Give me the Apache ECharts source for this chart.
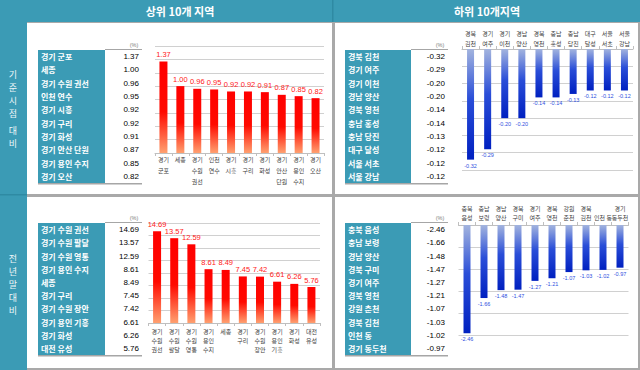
<!DOCTYPE html>
<html><head><meta charset="utf-8">
<script src="https://cdn.jsdelivr.net/npm/echarts@6/dist/echarts.min.js"></script>
<style>html,body{margin:0;padding:0;background:#fff}#c{width:640px;height:370px}</style>
</head><body><div id="c"></div>
<script>
// ---- Data ----
const topNames1 = ['경기 군포','세종','경기 수원 권선','인천 연수','경기 시흥','경기 구리','경기 화성','경기 안산 단원','경기 용인 수지','경기 오산'];
const topTicks1 = ['경기\n군포','세종','경기\n수원\n권선','인천\n연수','경기\n시흥','경기\n구리','경기\n화성','경기\n안산\n단원','경기\n용인\n수지','경기\n오산'];
const topValues1 = [1.37,1.00,0.96,0.95,0.92,0.92,0.91,0.87,0.85,0.82];

const lowNames1 = ['경북 김천','경기 여주','경기 이천','경남 양산','경북 영천','충남 홍성','충남 당진','대구 달성','서울 서초','서울 강남'];
const lowTicks1 = ['경북\n김천','경기\n여주','경기\n이천','경남\n양산','경북\n영천','충남\n홍성','충남\n당진','대구\n달성','서울\n서초','서울\n강남'];
const lowValues1 = [-0.32,-0.29,-0.20,-0.20,-0.14,-0.14,-0.13,-0.12,-0.12,-0.12];

const topNames2 = ['경기 수원 권선','경기 수원 팔달','경기 수원 영통','경기 용인 수지','세종','경기 구리','경기 수원 장안','경기 용인 기흥','경기 화성','대전 유성'];
const topTicks2 = ['경기\n수원\n권선','경기\n수원\n팔달','경기\n수원\n영통','경기\n용인\n수지','세종','경기\n구리','경기\n수원\n장안','경기\n용인\n기흥','경기\n화성','대전\n유성'];
const topValues2 = [14.69,13.57,12.59,8.61,8.49,7.45,7.42,6.61,6.26,5.76];

const lowNames2 = ['충북 음성','충남 보령','경남 양산','경북 구미','경기 여주','경북 영천','강원 춘천','경북 김천','인천 동','경기 동두천'];
const lowTicks2 = ['충북\n음성','충남\n보령','경남\n양산','경북\n구미','경기\n여주','경북\n영천','강원\n춘천','경북\n김천','인천 동','경기\n동두천'];
const lowValues2 = [-2.46,-1.66,-1.48,-1.47,-1.27,-1.21,-1.07,-1.03,-1.02,-0.97];

const headerTop = '상위 10개 지역';
const headerLow = '하위 10개지역';
const rowTitle1a = '기준시점', rowTitle1b = '대비';
const rowTitle2 = '전년말대비';
const unitText = '(%)';

// ---- Styles ----
const TEAL = '#3b9bb5';
const KR = '"Noto Sans CJK KR", sans-serif';
const NUM = '"Liberation Sans", Arial, sans-serif';

const chart = echarts.init(document.getElementById('c'), null, {renderer:'svg', width:640, height:370});

const g = [];
function rect(x,y,w,h,fill,z){ g.push({type:'rect', shape:{x,y,width:w,height:h}, style:{fill}, z:(z||0)-20, silent:true}); }
function text(t,x,y,opt){
  opt = opt||{};
  g.push({type:'text', z:20, silent:true, style:{text:t, x, y, fill:opt.fill||'#000',
    font:(opt.weight||'normal')+' '+(opt.size||8)+'px '+(opt.family||KR),
    textAlign:opt.align||'left', align:opt.align||'left', textVerticalAlign:'middle', verticalAlign:'middle'}});
}
// frame
rect(0,0,640,370,'#a9a9a9',0);
rect(0,0,640,22,TEAL,1);
rect(0,0,27,370,TEAL,1);
rect(332,0,1.5,22,'#2f8aa3',2);
rect(0,194,27,1.5,'#2f8aa3',2);
rect(27,23,305,171,'#fff',1);
rect(335,23,303,171,'#fff',1);
rect(27,197,305,171,'#fff',1);
rect(335,197,303,171,'#fff',1);
text(headerTop,180,11,{fill:'#fff',size:11,weight:'bold',align:'center'});
text(headerLow,487,11,{fill:'#fff',size:11,weight:'bold',align:'center'});
function vText(str, x, y0, step, size){
  str.split('').forEach((ch,i)=>text(ch,x,y0+i*step,{fill:'#eef6f8',size:size,align:'center'}));
}
vText(rowTitle1a,13,74,13.2,9);
vText(rowTitle1b,13,130,13.2,9);
vText(rowTitle2,13,258,13.2,9);

function table(names, vals, x0, xm, x1, y0, rh){
  rect(x0,y0,xm-x0,rh*names.length,TEAL,2);
  rect(xm,y0-1,x1-xm,1,'#a6a6a6',2);
  rect(x0,y0+rh*names.length,x1-x0,1.6,'#a6a6a6',2);
  text(unitText,x1-8,y0-5,{fill:'#808080',size:5.5,family:NUM,align:'center'});
  names.forEach((n,i)=>{
    const cy = y0+rh*(i+0.5);
    text(n,x0+3,cy,{fill:'#fff',size:8,weight:'bold'});
    text(vals[i].toFixed(2),x1-3,cy,{fill:'#000',size:8,family:NUM,align:'right'});
  });
}
table(topNames1,topValues1,38,105,142,50,13.3);
table(lowNames1,lowValues1,345,411,448,50,13.3);
table(topNames2,topValues2,38,105,142,223,13.2);
table(lowNames2,lowValues2,345,411,448,223,13.2);

const redGrad = () => new echarts.graphic.LinearGradient(0,0,0,1,[{offset:0,color:'#ff0000'},{offset:0.55,color:'#ff0a00'},{offset:1,color:'#ffa070'}]);
const blueGrad = () => new echarts.graphic.LinearGradient(0,0,0,1,[{offset:0,color:'#a3b4de'},{offset:0.45,color:'#2a4ed8'},{offset:1,color:'#0020c0'}]);

const grids = [
  {left:155, top:46, width:169, height:107},
  {left:462, top:49, width:171, height:121},
  {left:148.5, top:223, width:171.5, height:100},
  {left:458.5, top:225, width:170, height:110}
];
function xAx(i, ticks, pos, lh, margin){
  return {gridIndex:i, type:'category', data:ticks, position:pos,
    axisLine:{onZero:false, lineStyle:{color:'#bfbfbf'}},
    axisTick:{show:true, length:3, lineStyle:{color:'#bfbfbf'}},
    axisLabel:{interval:0, fontSize:6, lineHeight:lh, margin, color:'#404040', fontFamily:KR}};
}
function yAx(i,min,max,interval){
  return {gridIndex:i, type:'value', min, max, interval,
    axisLabel:{show:false}, axisLine:{show:false}, axisTick:{show:false},
    splitLine:{lineStyle:{color:'#d0d0d0', width:1}}};
}
function ser(i, vals, color, labPos, labColor, labSize, bw){
  return {type:'bar', xAxisIndex:i, yAxisIndex:i, data:vals, barWidth:bw,
    itemStyle:{color}, silent:true, animation:false,
    label:{show:true, position:labPos, distance:3, color:labColor, fontSize:labSize, fontFamily:NUM,
      formatter:p=>p.value.toFixed(2)}};
}

chart.setOption({
  animation:false,
  grid:grids,
  xAxis:[xAx(0,topTicks1,'bottom',11,1), xAx(1,lowTicks1,'top',10,1), xAx(2,topTicks2,'bottom',9,3.5), xAx(3,lowTicks2,'top',9,3.5)],
  yAxis:[yAx(0,0,1.6,0.2), yAx(1,-0.35,0,0.05), yAx(2,0,16,2), yAx(3,-2.5,0,0.5)],
  series:[
    ser(0,topValues1,redGrad(),'top','#ff2020',7.5,8),
    ser(1,lowValues1,blueGrad(),'bottom','#3050e0',5.5,7),
    ser(2,topValues2,redGrad(),'top','#ff2020',7.5,8),
    ser(3,lowValues2,blueGrad(),'bottom','#3050e0',5.5,7)
  ],
  graphic:{elements:g}
});
</script></body></html>
